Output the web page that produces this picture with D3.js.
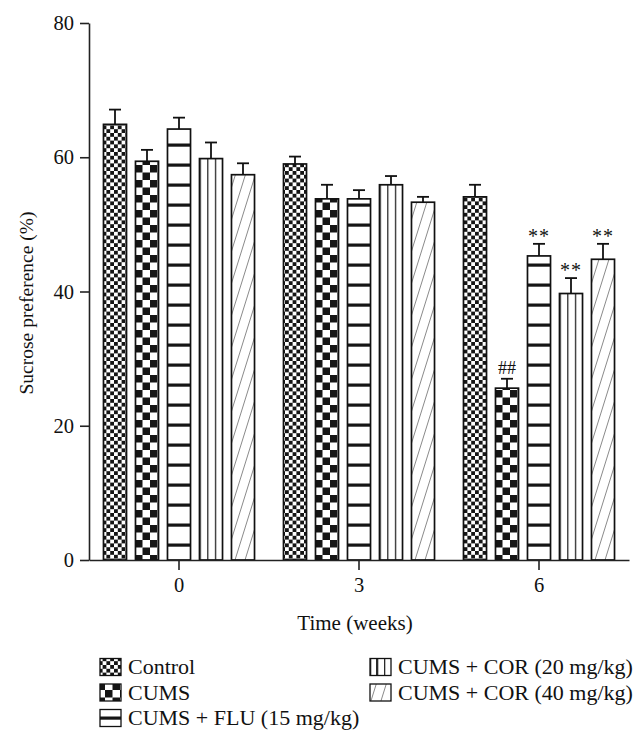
<!DOCTYPE html>
<html><head><meta charset="utf-8">
<script src="https://cdn.jsdelivr.net/npm/d3@7"></script>
<style>
html,body{margin:0;padding:0;background:#fff;}
svg{display:block;font-family:"Liberation Serif","Times New Roman",serif;}
</style></head>
<body>
<svg id="chart" width="644" height="747"></svg>
<script>
// ---- data ----
const groups = ["0", "3", "6"];
const seriesNames = ["Control", "CUMS", "CUMS + FLU (15 mg/kg)", "CUMS + COR (20 mg/kg)", "CUMS + COR (40 mg/kg)"];
const controlMean = [64.9, 59.0, 54.1];
const cumsMean    = [59.4, 53.8, 25.6];
const fluMean     = [64.2, 53.8, 45.3];
const cor20Mean   = [59.8, 55.9, 39.7];
const cor40Mean   = [57.4, 53.3, 44.8];
const controlErr  = [2.2, 1.1, 1.8];
const cumsErr     = [1.7, 2.1, 1.4];
const fluErr      = [1.7, 1.3, 1.8];
const cor20Err    = [2.4, 1.3, 2.3];
const cor40Err    = [1.7, 0.8, 2.3];
const yTicks = [0, 20, 40, 60, 80];
const annotGroup  = ["6", "6", "6", "6"];
const annotSeries = [1, 2, 3, 4];
const annotText   = ["##", "**", "**", "**"];

const means = [controlMean, cumsMean, fluMean, cor20Mean, cor40Mean];
const errs  = [controlErr, cumsErr, fluErr, cor20Err, cor40Err];
const patIds = ["p-control", "p-cums", "p-flu", "p-cor20", "p-cor40"];

const svg = d3.select("#chart");
const defs = svg.append("defs");

// patterns
function checker(id, s) {
  const p = defs.append("pattern").attr("id", id).attr("patternUnits", "userSpaceOnUse")
    .attr("width", 2 * s).attr("height", 2 * s);
  p.append("rect").attr("width", 2 * s).attr("height", 2 * s).attr("fill", "#fff");
  p.append("rect").attr("x", 0).attr("y", 0).attr("width", s).attr("height", s).attr("fill", "#151515");
  p.append("rect").attr("x", s).attr("y", s).attr("width", s).attr("height", s).attr("fill", "#151515");
}
checker("p-control", 3.8);
checker("p-cums", 7.5);
function hstripe(id, yOff) {
  const p = defs.append("pattern").attr("id", id).attr("patternUnits", "userSpaceOnUse")
    .attr("y", yOff).attr("width", 20).attr("height", 20);
  p.append("rect").attr("width", 20).attr("height", 20).attr("fill", "#fff");
  p.append("rect").attr("x", 0).attr("y", 3.5).attr("width", 20).attr("height", 3.2).attr("fill", "#151515");
}
hstripe("p-flu", 0);
{
  const p = defs.append("pattern").attr("id", "p-cor20").attr("patternUnits", "objectBoundingBox")
    .attr("width", 1 / 3).attr("height", 1);
  p.append("rect").attr("width", 40).attr("height", 800).attr("fill", "#fff");
  p.append("rect").attr("x", 0).attr("y", 0).attr("width", 1.3).attr("height", 800).attr("fill", "#2a2a2a");
}
{
  const w = 10, h = 32;
  const p = defs.append("pattern").attr("id", "p-cor40").attr("patternUnits", "userSpaceOnUse")
    .attr("width", w).attr("height", h);
  p.append("rect").attr("width", w).attr("height", h).attr("fill", "#fff");
  [[0, h, w, 0], [-w, h, 0, 0], [w, h, 2 * w, 0]].forEach(l =>
    p.append("line").attr("x1", l[0]).attr("y1", l[1]).attr("x2", l[2]).attr("y2", l[3])
      .attr("stroke", "#8a8a8a").attr("stroke-width", 1));
}

// scales
const y = d3.scaleLinear().domain([0, 80]).range([560, 23]);
const x0 = d3.scaleBand().domain(groups).range([89, 629]).paddingInner(0).paddingOuter(0);
const x1 = d3.scaleBand().domain(d3.range(seriesNames.length)).range([10, 170])
  .paddingInner(0.28).paddingOuter(0.14);

// bars
const barData = [];
groups.forEach((g, gi) => means.forEach((arr, si) =>
  barData.push({ g, si, v: arr[gi], e: errs[si][gi] })));

const bars = svg.append("g");
bars.selectAll("rect").data(barData).join("rect")
  .attr("x", d => x0(d.g) + x1(d.si))
  .attr("y", d => y(d.v))
  .attr("width", x1.bandwidth())
  .attr("height", d => y(0) - y(d.v))
  .attr("fill", d => `url(#${patIds[d.si]})`)
  .attr("stroke", "#111").attr("stroke-width", 1.7);

// error bars
const eb = svg.append("g").attr("stroke", "#111").attr("stroke-width", 1.8);
barData.forEach(d => {
  const cx = x0(d.g) + x1(d.si) + x1.bandwidth() / 2;
  eb.append("line").attr("x1", cx).attr("x2", cx).attr("y1", y(d.v)).attr("y2", y(d.v + d.e));
  eb.append("line").attr("x1", cx - 6).attr("x2", cx + 6).attr("y1", y(d.v + d.e)).attr("y2", y(d.v + d.e));
});

// annotations
annotText.forEach((t, i) => {
  const g = annotGroup[i], si = annotSeries[i];
  const gi = groups.indexOf(g);
  const top = means[si][gi] + errs[si][gi];
  const cx = x0(g) + x1(si) + x1.bandwidth() / 2;
  const isStar = t.indexOf("*") >= 0;
  svg.append("text").attr("x", cx).attr("y", y(top) - (isStar ? 1 : 5))
    .attr("text-anchor", "middle").attr("font-size", isStar ? 20 : 18).attr("fill", "#111")
    .attr("letter-spacing", isStar ? 1 : 0)
    .text(t);
});

// axes
const yAxis = d3.axisLeft(y).tickValues(yTicks).tickSize(9).tickSizeOuter(0).tickPadding(6);
const gy = svg.append("g").attr("transform", "translate(89,0)").call(yAxis);
const xAxis = d3.axisBottom(x0).tickSize(10).tickSizeOuter(0).tickPadding(7);
const gx = svg.append("g").attr("transform", "translate(0,560)").call(xAxis);
[gy, gx].forEach(g => {
  g.selectAll("path,line").attr("stroke", "#222").attr("stroke-width", 1.6);
  g.selectAll("text").attr("font-size", 20.5).attr("fill", "#111")
    .attr("font-family", "Liberation Serif, serif");
});

// axis titles
svg.append("text").attr("x", 355).attr("y", 630).attr("text-anchor", "middle")
  .attr("font-size", 21).attr("fill", "#111").text("Time (weeks)");
svg.append("text").attr("transform", "translate(33,303) rotate(-90)").attr("text-anchor", "middle")
  .attr("font-size", 19.5).attr("fill", "#111").text("Sucrose preference (%)");

// legend
const legX = [100, 100, 100, 370, 370];
const legY = [667, 692.5, 718, 667, 692.5];
hstripe("p-flu-leg", legY[2] - 5);
const legPat = ["p-control", "p-cums", "p-flu-leg", "p-cor20", "p-cor40"];
const leg = svg.append("g");
seriesNames.forEach((n, i) => {
  leg.append("rect").attr("x", legX[i]).attr("y", legY[i] - 8.5).attr("width", 21).attr("height", 17)
    .attr("fill", `url(#${legPat[i]})`).attr("stroke", "#111").attr("stroke-width", 1.3);
  leg.append("text").attr("x", legX[i] + 28).attr("y", legY[i] + 7)
    .attr("font-size", 22).attr("fill", "#111").text(n);
});
</script>
</body></html>
